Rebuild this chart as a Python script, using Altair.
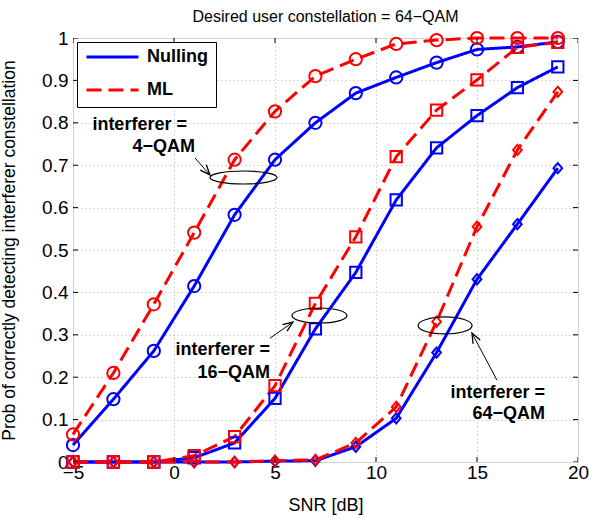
import math
import altair as alt
import pandas as pd

# ---------------- data ----------------
snr = [-5, -3, -1, 1, 3, 5, 7, 9, 11, 13, 15, 17, 19]
null_4 = [0.040, 0.148, 0.262, 0.415, 0.583, 0.713, 0.800, 0.870, 0.907, 0.942, 0.973, 0.979, 0.991]
ml_4 = [0.065, 0.210, 0.372, 0.541, 0.713, 0.827, 0.910, 0.950, 0.986, 0.995, 1.0, 1.0, 1.0]
null_16 = [0.0, 0.0, 0.0, 0.010, 0.045, 0.150, 0.314, 0.447, 0.618, 0.741, 0.817, 0.883, 0.932]
ml_16 = [0.0, 0.0, 0.0, 0.015, 0.060, 0.180, 0.374, 0.531, 0.720, 0.830, 0.901, 0.978, 0.990]
null_64 = [0.0, 0.0, 0.0, 0.0, 0.0, 0.002, 0.003, 0.036, 0.103, 0.258, 0.431, 0.561, 0.693]
ml_64 = [0.0, 0.0, 0.0, 0.0, 0.0, 0.003, 0.005, 0.045, 0.130, 0.331, 0.555, 0.736, 0.873]

methods = ["Nulling", "ML"]
interferers = ["4-QAM", "16-QAM", "64-QAM"]
x_ticks = [-5, 0, 5, 10, 15, 20]
y_ticks = [0, 0.1, 0.2, 0.3, 0.4, 0.5, 0.6, 0.7, 0.8, 0.9, 1.0]

title_text = "Desired user constellation = 64\u2212QAM"
x_title = "SNR [dB]"
y_title = "Prob of correctly detecting interferer constellation"

# annotation anchors (data coordinates)
ann_labels = ["4-QAM", "16-QAM", "64-QAM"]
ann_line1 = ["interferer =", "interferer =", "interferer ="]
ann_line2 = ["4\u2212QAM", "16\u2212QAM", "64\u2212QAM"]
ann_text_x1 = [0.64, 4.75, 18.37]
ann_text_x2 = [1.04, 4.75, 18.37]
ann_text_y1 = [0.795, 0.264, 0.163]
ann_text_y2 = [0.743, 0.210, 0.113]
ell_x = [3.44, 7.20, 13.42]
ell_y = [0.671, 0.3455, 0.322]
arrow_x0 = [1.04, 4.75, 15.99]
arrow_y0 = [0.717, 0.292, 0.193]
arrow_x1 = [1.78, 5.89, 14.75]
arrow_y1 = [0.677, 0.330, 0.304]

# ---------------- layout constants ----------------
W, H = 505, 424
XDOM = [-5, 20]
YDOM = [0, 1]
FONT = "Liberation Sans"
BLUE = "#0000ff"
RED = "#ff0000"
DIAMOND = "M0,-1 L0.85,0 L0,1 L-0.85,0 Z"

rows = []
for meth, series in (("Nulling", [null_4, null_16, null_64]), ("ML", [ml_4, ml_16, ml_64])):
    for itf, vals in zip(interferers, series):
        for s, v in zip(snr, vals):
            rows.append({"snr": s, "prob": v, "method": meth, "interferer": itf,
                         "series": meth + " " + itf})
df = pd.DataFrame(rows)

xs = alt.Scale(domain=XDOM, nice=False, zero=False)
ys = alt.Scale(domain=YDOM, nice=False, zero=False)

xax = alt.Axis(values=x_ticks, format="~g", grid=True, domain=False, ticks=False, tickSize=0,
               labelFontSize=19, labelFont=FONT, labelPadding=1, labelColor="black",
               labelFlush=False, labelOverlap=False,
               title=x_title, titleFont=FONT, titleFontSize=18, titleFontWeight="normal",
               titleX=W / 2, titleY=43, titleBaseline="middle", titleColor="black",
               gridColor="#b0b0b0", gridDash=[1, 3], gridWidth=1)
yax = alt.Axis(values=y_ticks, format="~g", grid=True, domain=False, ticks=False, tickSize=0,
               labelFontSize=19, labelFont=FONT, labelPadding=5, labelColor="black",
               labelFlush=False, labelOverlap=False,
               title=y_title, titleFont=FONT, titleFontSize=17.5, titleFontWeight="normal",
               titleX=-64, titleY=H / 2, titleBaseline="middle", titleAngle=270,
               titleAlign="center", titleColor="black",
               gridColor="#b0b0b0", gridDash=[1, 3], gridWidth=1)

color_scale = alt.Scale(domain=methods, range=[BLUE, RED])
dash_scale = alt.Scale(domain=methods, range=[[1, 0], [15, 7]])
shape_scale = alt.Scale(domain=interferers, range=["circle", "square", DIAMOND])
size_scale = alt.Scale(domain=interferers, range=[150, 105, 196])

base = alt.Chart(df)

lines = base.mark_line(strokeWidth=3, clip=False).encode(
    x=alt.X("snr:Q", scale=xs, axis=xax),
    y=alt.Y("prob:Q", scale=ys, axis=yax),
    detail="series:N",
    order="snr:Q",
    color=alt.Color("method:N", scale=color_scale,
                    legend=alt.Legend(title=None, orient="none", legendX=4, legendY=4,
                                      symbolType="stroke", symbolSize=2704, symbolStrokeWidth=3,
                                      clipHeight=14, rowPadding=15, padding=8, labelOffset=7,
                                      labelFont=FONT, labelFontSize=18, labelFontWeight="bold",
                                      labelColor="black", strokeColor="black", fillColor="white",
                                      labelLimit=300)),
    strokeDash=alt.StrokeDash("method:N", scale=dash_scale, legend=alt.Legend(title=None)),
)

points = base.mark_point(filled=False, strokeWidth=2, opacity=1, clip=False).encode(
    x=alt.X("snr:Q", scale=xs),
    y=alt.Y("prob:Q", scale=ys),
    color=alt.Color("method:N", scale=color_scale, legend=None),
    shape=alt.Shape("interferer:N", scale=shape_scale, legend=None),
    size=alt.Size("interferer:N", scale=size_scale, legend=None),
)

# inside ticks (clipped half-ticks on each frame edge)
xt = pd.DataFrame({"t": x_ticks})
yt = pd.DataFrame({"t": y_ticks})
tick_layers = []
for yv in YDOM:
    tick_layers.append(alt.Chart(xt).mark_tick(orient="vertical", size=10, thickness=1,
                                               color="black", clip=True, opacity=1).encode(
        x=alt.X("t:Q", scale=xs), y=alt.datum(yv, scale=ys)))
for xv in XDOM:
    tick_layers.append(alt.Chart(yt).mark_tick(orient="horizontal", size=10, thickness=1,
                                               color="black", clip=True, opacity=1).encode(
        y=alt.Y("t:Q", scale=ys), x=alt.datum(xv, scale=xs)))

# annotations
ann = pd.DataFrame({"lab": ann_labels, "l1": ann_line1, "l2": ann_line2,
                    "tx1": ann_text_x1, "tx2": ann_text_x2,
                    "ty1": ann_text_y1, "ty2": ann_text_y2,
                    "ex": ell_x, "ey": ell_y,
                    "ax0": arrow_x0, "ay0": arrow_y0, "ax1": arrow_x1, "ay1": arrow_y1})

px_x = W / (XDOM[1] - XDOM[0])
px_y = H / (YDOM[1] - YDOM[0])
ann["angle"] = [
    (math.degrees(math.atan2((x1 - x0) * px_x, (y1 - y0) * px_y)) + 360) % 360
    for x0, y0, x1, y1 in zip(arrow_x0, arrow_y0, arrow_x1, arrow_y1)
]


def ellipse_path(ratio):
    k = 0.5523
    r = ratio
    return (f"M1,0 C1,{k*r:.4f} {k},{r:.4f} 0,{r:.4f} C{-k},{r:.4f} -1,{k*r:.4f} -1,0 "
            f"C-1,{-k*r:.4f} {-k},{-r:.4f} 0,{-r:.4f} C{k},{-r:.4f} 1,{-k*r:.4f} 1,0 Z")


ell_dims = [(67, 13), (55, 15), (54, 17)]
ell_layers = []
for i, (w, h) in enumerate(ell_dims):
    ell_layers.append(alt.Chart(ann.iloc[[i]]).mark_point(
        shape=ellipse_path(h / w), size=w * w, filled=False, stroke="black",
        strokeWidth=1.2, opacity=1).encode(
        x=alt.X("ex:Q", scale=xs), y=alt.Y("ey:Q", scale=ys)))

arrow_lines = alt.Chart(ann).mark_rule(color="black", strokeWidth=1).encode(
    x=alt.X("ax0:Q", scale=xs), y=alt.Y("ay0:Q", scale=ys),
    x2="ax1:Q", y2="ay1:Q")

arrow_heads = alt.Chart(ann).mark_point(
    shape="M-0.4,1 L0,0 L0.4,1", size=400, filled=False, stroke="black",
    strokeWidth=1.3, opacity=1).encode(
    x=alt.X("ax1:Q", scale=xs), y=alt.Y("ay1:Q", scale=ys),
    angle=alt.Angle("angle:Q", scale=None))

txt1 = alt.Chart(ann).mark_text(font=FONT, fontSize=18, fontWeight="bold", align="right",
                                baseline="middle", color="black").encode(
    x=alt.X("tx1:Q", scale=xs), y=alt.Y("ty1:Q", scale=ys), text="l1:N")
txt2 = alt.Chart(ann).mark_text(font=FONT, fontSize=18, fontWeight="bold", align="right",
                                baseline="middle", color="black").encode(
    x=alt.X("tx2:Q", scale=xs), y=alt.Y("ty2:Q", scale=ys), text="l2:N")

title_mark = alt.Chart(pd.DataFrame({"t": [title_text]})).mark_text(
    font=FONT, fontSize=16, align="center", baseline="alphabetic", color="black").encode(
    x=alt.value(W / 2), y=alt.value(-16), text="t:N")

chart = alt.layer(
    lines, points, *tick_layers, *ell_layers, arrow_lines, arrow_heads, txt1, txt2, title_mark
).properties(
    width=W, height=H,
    padding={"left": 73, "top": 38, "right": 11, "bottom": 57},
    autosize=alt.AutoSizeParams(type="none"),
).configure_view(stroke="black", strokeWidth=1).configure(background="white")

chart.save("out.html", embed_options={"renderer": "svg", "actions": False})
